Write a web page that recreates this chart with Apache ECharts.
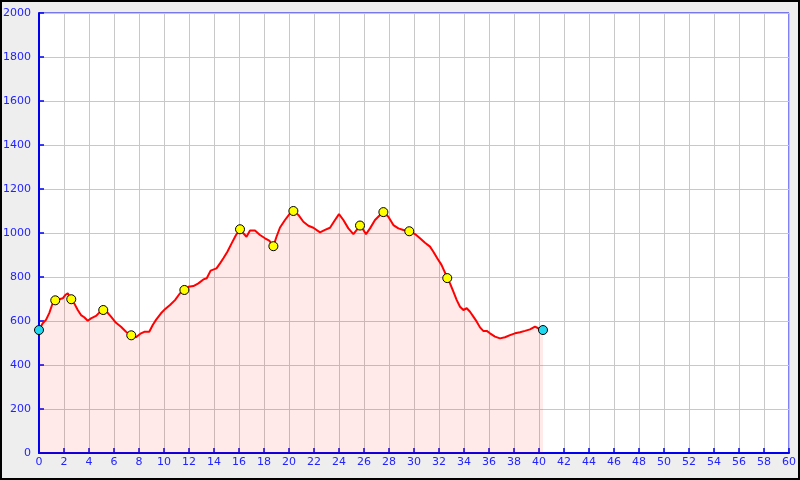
<!DOCTYPE html>
<html>
<head>
<meta charset="utf-8">
<script src="https://cdn.jsdelivr.net/npm/echarts@6/dist/echarts.min.js"></script>
<style>
html,body{margin:0;padding:0;background:#eeeeee;}
#chart{width:800px;height:480px;}
</style>
</head>
<body>
<div id="chart"></div>
<script>
// Distance (km) and elevation (m) along the track
const distKm = [0,0.3,0.56,0.82,0.96,1.1,1.3,1.62,1.9,2.1,2.3,2.42,2.58,2.82,3.1,3.36,3.62,3.9,4.16,4.56,4.82,5.14,5.42,5.76,6.16,6.56,6.96,7.38,7.76,8.16,8.42,8.82,9.1,9.36,9.76,10.1,10.48,10.88,11.28,11.63,11.95,12.35,12.75,13.15,13.42,13.73,14.2,14.48,14.75,15.07,15.41,15.76,16.08,16.35,16.6,16.88,17.28,17.68,18.08,18.42,18.75,19.0,19.28,19.68,20.08,20.35,20.75,21.15,21.55,21.95,22.48,22.88,23.28,23.68,24.0,24.35,24.75,25.15,25.42,25.68,25.95,26.16,26.48,26.88,27.28,27.55,27.95,28.35,28.75,29.15,29.62,30.08,30.48,30.88,31.28,31.55,31.86,32.2,32.48,32.66,32.88,33.15,33.42,33.68,33.95,34.22,34.48,34.75,35.02,35.28,35.54,35.82,36.08,36.48,36.88,37.28,37.68,38.08,38.48,38.88,39.28,39.68,39.94,40.32];
const elevM = [559,590,605,636,659,682,694,699,703,718,726,714,699,680,650,627,617,601,612,623,638,650,642,620,592,574,551,535,526,544,551,551,582,605,635,655,673,695,726,741,756,759,771,789,794,829,839,862,885,915,953,991,1017,999,983,1011,1011,991,976,965,940,983,1025,1059,1089,1100,1082,1051,1033,1024,1003,1014,1024,1059,1086,1059,1021,995,1014,1034,1014,995,1021,1059,1082,1095,1074,1036,1021,1014,1008,995,976,956,938,915,885,855,820,795,771,733,695,665,650,658,642,620,597,571,555,555,544,529,521,526,536,544,549,555,562,574,567,559];

// Waypoints
const waypointKm = [1.3,2.58,5.14,7.38,11.63,16.08,18.75,20.35,25.68,27.55,29.62,32.66];
const waypointElev = [694,699,650,535,741,1017,940,1100,1034,1095,1008,795];

// Start / end
const endKm = [0,40.32];
const endElev = [559,559];

const xMin = 0, xMax = 60, xStep = 2;
const yMin = 0, yMax = 2000, yStep = 200;

const profile = distKm.map((d,i)=>[d,elevM[i]]);
const waypoints = waypointKm.map((d,i)=>[d,waypointElev[i]]);
const ends = endKm.map((d,i)=>[d,endElev[i]]);

const chart = echarts.init(document.getElementById('chart'), null, {renderer:'canvas'});
const axisBlue = '#0000ee';
const labelStyle = {color:'#2222ff', fontFamily:'DejaVu Sans', fontSize:11, formatter:(v)=>String(v)};
chart.setOption({
  animation:false,
  backgroundColor:'#eeeeee',
  grid:{left:39, top:13, right:11, bottom:27, show:true, backgroundColor:'#ffffff', borderColor:axisBlue, borderWidth:1, containLabel:false, outerBoundsMode:'none'},
  xAxis:{
    type:'value', min:xMin, max:xMax, interval:xStep,
    axisLine:{show:true, onZero:false, lineStyle:{color:axisBlue, width:2}},
    axisTick:{show:true, inside:true, length:5, lineStyle:{color:axisBlue, width:1.5}},
    axisLabel:Object.assign({margin:4}, labelStyle),
    splitLine:{show:true, lineStyle:{color:'#c8c8c8', width:1}}
  },
  yAxis:{
    type:'value', min:yMin, max:yMax, interval:yStep,
    axisLine:{show:true, lineStyle:{color:axisBlue, width:2}},
    axisTick:{show:true, inside:true, length:5, lineStyle:{color:axisBlue, width:1.5}},
    axisLabel:Object.assign({margin:8}, labelStyle),
    splitLine:{show:true, lineStyle:{color:'#c8c8c8', width:1}}
  },
  graphic:[{type:'rect', shape:{x:1, y:1, width:798, height:478}, style:{fill:'none', stroke:'#000', lineWidth:2}, z:100}],
  series:[
    {type:'line', data:profile, symbol:'none', lineStyle:{color:'#ff0000', width:2}, areaStyle:{color:'rgba(255,0,0,0.12)'}, z:2},
    {type:'scatter', data:waypoints, symbol:'circle', symbolSize:9, itemStyle:{color:'#ffff00', borderColor:'#000', borderWidth:1, opacity:1}, z:3},
    {type:'scatter', data:ends, symbol:'circle', symbolSize:9, itemStyle:{color:'#22d8ee', borderColor:'#000', borderWidth:1, opacity:1}, z:3}
  ]
});
</script>
</body>
</html>
